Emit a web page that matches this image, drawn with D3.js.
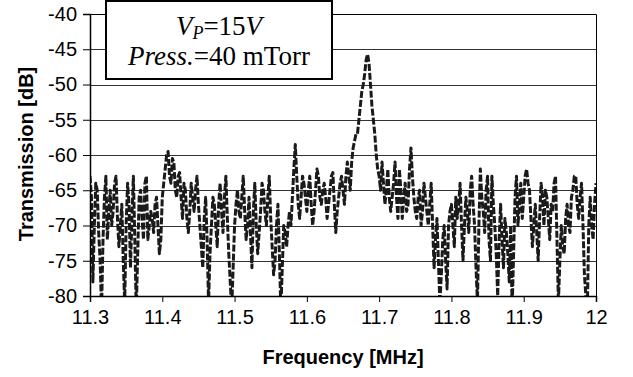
<!DOCTYPE html>
<html>
<head>
<meta charset="utf-8">
<script src="https://cdn.jsdelivr.net/npm/d3@7"></script>
<style>
  body { margin: 0; background: #fff; }
  svg { display: block; }
</style>
</head>
<body>
<svg id="chart" width="633" height="377"></svg>
<script>
// sweep: 11.300 MHz .. 12.000 MHz, one reading every 2 kHz
var sweepStart = 11.3;
var sweepStep = 0.002;

// transmission readings in dB, one row per 0.05 MHz
var transmission = [
  -63, -66, -78, -70, -64, -65, -71, -75, -82, -72, -66, -63, -72, -68, -65, -70, -68, -64, -63, -69, -73, -70, -67, -75, -81,
  -70, -64, -67, -76, -69, -63, -72, -82, -74, -66, -65, -69, -72, -64, -63, -72, -70, -68, -69, -71, -67, -66, -70, -74, -72,
  -66, -64, -62, -60, -59.5, -63, -64, -60.5, -61, -65, -66, -63, -62.5, -66, -69, -64, -65, -69, -71, -68, -64, -66, -68, -65, -63,
  -67, -70, -73, -76, -69, -66, -72, -81, -74, -70, -66, -67, -70, -73, -67, -64, -68, -71, -66, -63, -69, -74, -78, -82, -76,
  -70, -67, -65, -68, -69, -66, -63, -68, -72, -70, -66, -71, -76, -68, -64, -70, -74, -71, -68, -64, -65, -68, -70, -66, -63,
  -69, -73, -77, -75, -70, -67, -74, -82, -76, -70, -71, -73, -70, -68, -70, -66, -62, -58.5, -63, -67, -69, -66, -63, -64, -66,
  -68, -65, -63, -67, -70, -68, -65, -62, -63, -66, -67, -65, -64, -66, -69, -67, -65, -63, -62.5, -67, -71, -68, -66, -64, -63,
  -65, -67, -63, -61, -63, -65, -61, -59, -58, -57, -57, -55, -53, -51, -50, -48.5, -46.5, -45.7, -47, -50, -53, -55, -57, -60, -62,
  -63, -65, -61, -64, -67, -65, -62, -66, -68, -66, -64, -61, -66, -69, -62, -65, -69, -66, -64, -68, -67, -62, -59, -63, -66,
  -68, -69, -66, -65, -70, -68, -64, -66, -68, -70, -67, -64, -70, -76, -72, -69, -75, -81, -77, -72, -70, -75, -79, -70, -68,
  -67, -70, -73, -66, -69, -67, -64, -70, -75, -70, -66, -68, -71, -65, -63, -67, -70, -76, -81, -70, -62, -66, -68, -71, -65,
  -63, -72, -75, -63, -67, -70, -74, -80, -72, -67, -72, -76, -69, -71, -74, -78, -70, -82, -74, -66, -63, -70, -67, -64, -69,
  -66, -63, -62, -64, -65, -69, -73, -70, -67, -71, -75, -69, -64, -66, -70, -65, -66, -69, -72, -67, -68, -64, -63, -72, -81,
  -75, -70, -73, -74, -69, -67, -70, -71, -66, -65, -63, -63, -67, -69, -66, -64, -70, -77, -80, -82, -70, -66, -70, -72, -67,
  -64
];

var xTicks = [11.3, 11.4, 11.5, 11.6, 11.7, 11.8, 11.9, 12];
var yTicks = [-80, -75, -70, -65, -60, -55, -50, -45, -40];

var svg = d3.select("#chart");
var pLeft = 90, pRight = 596, pTop = 14, pBottom = 296;

var x = d3.scaleLinear().domain([11.3, 12]).range([pLeft, pRight]);
var y = d3.scaleLinear().domain([-80, -40]).range([pBottom, pTop]);

var points = transmission.map(function(v, i) {
  return [sweepStart + i * sweepStep, v];
});

// grid lines
svg.append("g")
  .selectAll("line")
  .data(yTicks.slice(1, -1))
  .enter().append("line")
  .attr("x1", pLeft).attr("x2", pRight)
  .attr("y1", function(d) { return Math.round(y(d)) + 0.5; })
  .attr("y2", function(d) { return Math.round(y(d)) + 0.5; })
  .attr("stroke", "#333")
  .attr("stroke-width", 1);

// plot area frame (top + right)
svg.append("path")
  .attr("d", "M" + pLeft + "," + (pTop + 0.5) + "H" + (pRight + 0.5) + "V" + pBottom)
  .attr("fill", "none")
  .attr("stroke", "#000")
  .attr("stroke-width", 1);

svg.append("clipPath").attr("id", "clip")
  .append("rect")
  .attr("x", pLeft).attr("y", pTop)
  .attr("width", pRight - pLeft).attr("height", pBottom - pTop);

var line = d3.line()
  .x(function(d) { return x(d[0]); })
  .y(function(d) { return y(d[1]); });

svg.append("path")
  .datum(points)
  .attr("clip-path", "url(#clip)")
  .attr("d", line)
  .attr("fill", "none")
  .attr("stroke", "#1a1a1a")
  .attr("stroke-width", 3)
  .attr("stroke-linejoin", "round")
  .attr("stroke-dasharray", "7,2");

// axes
var xAxis = d3.axisBottom(x).tickValues(xTicks).tickSize(6).tickPadding(8)
  .tickFormat(function(d) { return String(+d.toFixed(1)); });
var yAxis = d3.axisLeft(y).tickValues(yTicks).tickSize(7).tickPadding(6)
  .tickFormat(function(d) { return String(d); });

var gx = svg.append("g")
  .attr("transform", "translate(0," + pBottom + ")")
  .call(xAxis);
var gy = svg.append("g")
  .attr("transform", "translate(" + pLeft + ",0)")
  .call(yAxis);

[gx, gy].forEach(function(g) {
  g.attr("font-family", "Liberation Sans, Arial, sans-serif").attr("font-size", 20);
  g.select(".domain").attr("stroke", "#000").attr("stroke-width", 1.5);
  g.selectAll(".tick line").attr("stroke", "#000").attr("stroke-width", 1);
  g.selectAll("text").attr("fill", "#000");
});

// axis titles
svg.append("text")
  .attr("x", (pLeft + pRight) / 2)
  .attr("y", 364)
  .attr("text-anchor", "middle")
  .attr("font-family", "Liberation Sans, Arial, sans-serif")
  .attr("font-size", 20)
  .attr("font-weight", "bold")
  .text("Frequency [MHz]");

svg.append("text")
  .attr("transform", "translate(33,154) rotate(-90)")
  .attr("text-anchor", "middle")
  .attr("font-family", "Liberation Sans, Arial, sans-serif")
  .attr("font-size", 20)
  .attr("font-weight", "bold")
  .text("Transmission [dB]");

// note box
var note = svg.append("g");
note.append("rect")
  .attr("x", 106).attr("y", 1)
  .attr("width", 226).attr("height", 78)
  .attr("fill", "#fff")
  .attr("stroke", "#000")
  .attr("stroke-width", 2);

var t1 = note.append("text")
  .attr("x", 219).attr("y", 35)
  .attr("text-anchor", "middle")
  .attr("font-family", "Liberation Serif, Times New Roman, serif")
  .attr("font-size", 27);
t1.append("tspan").attr("font-style", "italic").text("V");
t1.append("tspan").attr("font-style", "italic").attr("font-size", 18).attr("dy", 4).text("P");
t1.append("tspan").attr("dy", -4).text("=15");
t1.append("tspan").attr("font-style", "italic").text("V");

var t2 = note.append("text")
  .attr("x", 219).attr("y", 65)
  .attr("text-anchor", "middle")
  .attr("font-family", "Liberation Serif, Times New Roman, serif")
  .attr("font-size", 27);
t2.append("tspan").attr("font-style", "italic").text("Press.");
t2.append("tspan").text("=40 mTorr");
</script>
</body>
</html>
